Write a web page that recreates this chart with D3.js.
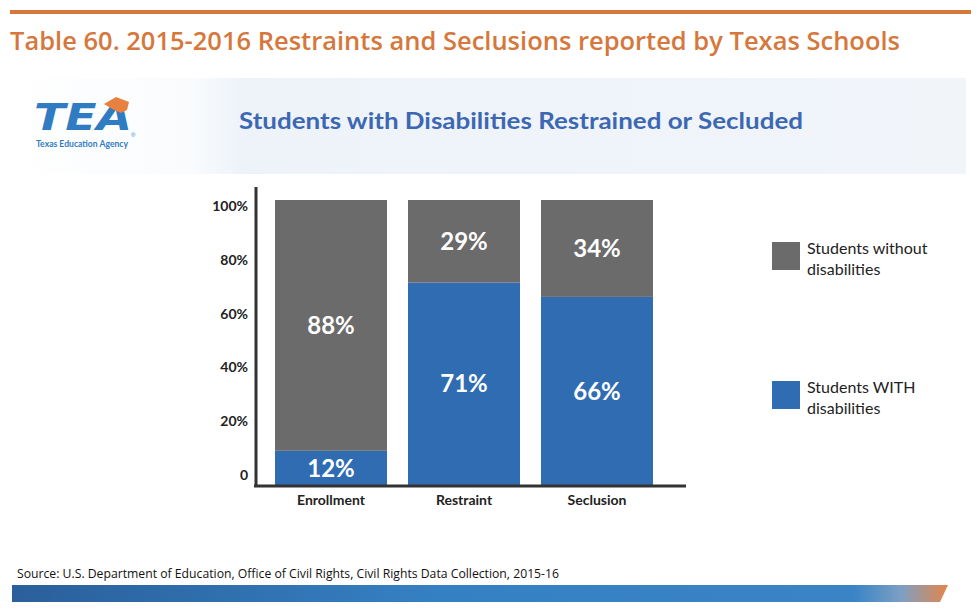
<!DOCTYPE html>
<html><head><meta charset="utf-8">
<script src="https://cdn.jsdelivr.net/npm/d3@7/dist/d3.min.js"></script>
<style>body{margin:0;background:#fff}svg{display:block}</style>
</head><body>
<svg id="c" width="980" height="616"></svg>
<script>
const categories = ["Enrollment", "Restraint", "Seclusion"];
const withDisabilities = [12, 71, 66];
const withoutDisabilities = [88, 29, 34];
const seriesNames = ["Students WITH disabilities", "Students without disabilities"];
const tickValues = [0, 20, 40, 60, 80, 100];
const tickLabels = ["0", "20%", "40%", "60%", "80%", "100%"];

const svg = d3.select("#c");
const defs = svg.append("defs");
const BLUE = "#2f6cb2", GREY = "#6b6b6b";

// header band gradient
const g1 = defs.append("linearGradient").attr("id","hdr").attr("x1","0").attr("x2","1");
g1.append("stop").attr("offset","0").attr("stop-color","#ffffff");
g1.append("stop").attr("offset","0.2").attr("stop-color","#f9fbfd");
g1.append("stop").attr("offset","0.25").attr("stop-color","#eef3f9");
g1.append("stop").attr("offset","1").attr("stop-color","#f1f5fa");
svg.append("rect").attr("x",0).attr("y",78).attr("width",966).attr("height",96).attr("fill","url(#hdr)");

// top rule + title
svg.append("rect").attr("x",10).attr("y",10).attr("width",961).attr("height",4).attr("fill","#d6773b");
svg.append("text").attr("x",10).attr("y",50)
  .attr("font-family","'Open Sans', Lato, sans-serif").attr("font-weight",600).attr("font-size",26)
  .attr("fill","#d6773b").attr("textLength",890).attr("lengthAdjust","spacingAndGlyphs")
  .text("Table 60. 2015-2016 Restraints and Seclusions reported by Texas Schools");

// TEA logo
svg.append("text").attr("x",34).attr("y",130)
  .attr("font-family","'DejaVu Sans', sans-serif").attr("font-weight",700).attr("font-style","italic")
  .attr("font-size",37).attr("fill","#2f7cc3").attr("textLength",98).attr("lengthAdjust","spacingAndGlyphs")
  .text("TEA");
svg.append("path").attr("d","M104,104 L116,97 L129,102 L127,110 L121,113 L114,110 Z").attr("fill","#e8813f");
svg.append("text").attr("x",131).attr("y",137).attr("font-family","sans-serif").attr("font-size",6).attr("fill","#2f7cc3").text("®");
svg.append("text").attr("x",36).attr("y",147)
  .attr("font-family","Lato, sans-serif").attr("font-weight",700).attr("font-size",8.5)
  .attr("fill","#2f7cc3").attr("textLength",92).attr("lengthAdjust","spacingAndGlyphs")
  .text("Texas Education Agency");

// subtitle
svg.append("text").attr("x",239).attr("y",129)
  .attr("font-family","Lato, 'Open Sans', sans-serif").attr("font-weight",700).attr("font-size",23)
  .attr("fill","#3c68b3").attr("textLength",564).attr("lengthAdjust","spacingAndGlyphs")
  .text("Students with Disabilities Restrained or Secluded");

// scales
const x = d3.scaleBand().domain(categories).range([256, 672]).paddingInner(0.158).paddingOuter(0.143);
const y = d3.scaleLinear().domain([0, 100]).range([485, 200]);
const yLab = d3.scaleLinear().domain([0, 100]).range([475, 206]);

const stackData = categories.map((c,i)=>({cat:c, with:withDisabilities[i], without:withoutDisabilities[i]}));
const stack = d3.stack().keys(["with","without"])(stackData);
const colors = {with: BLUE, without: GREY};

const layers = svg.append("g").selectAll("g").data(stack).join("g").attr("fill", d=>colors[d.key]);
layers.selectAll("rect").data(d=>d).join("rect")
  .attr("x", d=>x(d.data.cat)).attr("width", x.bandwidth())
  .attr("y", d=>y(d[1])).attr("height", d=>y(d[0])-y(d[1]));

// value labels
stack.forEach(layer=>{
  svg.append("g").selectAll("text").data(layer).join("text")
    .attr("x", d=>x(d.data.cat)+x.bandwidth()/2)
    .attr("y", d=>(y(d[0])+y(d[1]))/2)
    .attr("dy","0.36em").attr("text-anchor","middle")
    .attr("font-family","Lato, 'Open Sans', sans-serif").attr("font-weight",700).attr("font-size",24)
    .attr("fill","#fff")
    .text(d=>(d[1]-d[0])+"%");
});

// y axis labels
const yAxis = d3.axisLeft(yLab).tickValues(tickValues).tickSize(0).tickPadding(0)
  .tickFormat((d,i)=>tickLabels[i]);
const ya = svg.append("g").attr("transform","translate(248,0)").call(yAxis);
ya.select(".domain").remove();
ya.selectAll("text").attr("font-family","Lato, 'Open Sans', sans-serif").attr("font-weight",700)
  .attr("font-size",14).attr("fill","#222");

// x axis labels
const xAxis = d3.axisBottom(x).tickSize(0).tickPadding(0);
const xa = svg.append("g").attr("transform","translate(0,495)").call(xAxis);
xa.select(".domain").remove();
xa.selectAll("text").attr("font-family","Lato, 'Open Sans', sans-serif").attr("font-weight",700)
  .attr("font-size",14).attr("fill","#222");

// axis lines
svg.append("line").attr("x1",256).attr("x2",256).attr("y1",187).attr("y2",487).attr("stroke","#333").attr("stroke-width",3);
svg.append("line").attr("x1",254).attr("x2",686).attr("y1",486).attr("y2",486).attr("stroke","#333").attr("stroke-width",3);

// legend
const legendItems = [
  {name: seriesNames[1], color: GREY, lines:["Students without","disabilities"], y:242},
  {name: seriesNames[0], color: BLUE, lines:["Students WITH","disabilities"], y:381}
];
const lg = svg.append("g").selectAll("g").data(legendItems).join("g")
  .attr("transform", d=>`translate(772,${d.y})`);
lg.append("rect").attr("width",28).attr("height",28).attr("fill",d=>d.color);
lg.append("text").attr("x",35).attr("y",12)
  .attr("font-family","Lato, 'Open Sans', sans-serif").attr("font-size",16).attr("fill","#222")
  .selectAll("tspan").data(d=>d.lines).join("tspan").attr("x",35).attr("dy",(d,i)=>i?21:0).text(d=>d);

// source
svg.append("text").attr("x",17).attr("y",578)
  .attr("font-family","'Open Sans', Lato, sans-serif").attr("font-size",12.5).attr("fill","#111")
  .attr("textLength",542).attr("lengthAdjust","spacingAndGlyphs")
  .text("Source: U.S. Department of Education, Office of Civil Rights, Civil Rights Data Collection, 2015-16");

// bottom band
const g2 = defs.append("linearGradient").attr("id","band").attr("x1","0").attr("x2","1");
g2.append("stop").attr("offset","0").attr("stop-color","#2a5f9b");
g2.append("stop").attr("offset","0.45").attr("stop-color","#3580c2");
g2.append("stop").attr("offset","0.9").attr("stop-color","#3a84c6");
g2.append("stop").attr("offset","0.95").attr("stop-color","#7d9fc4");
g2.append("stop").attr("offset","1").attr("stop-color","#e4854a");
svg.append("path").attr("d","M12,585 L948,585 L940,602 L12,602 Z").attr("fill","url(#band)");
</script>
</body></html>
